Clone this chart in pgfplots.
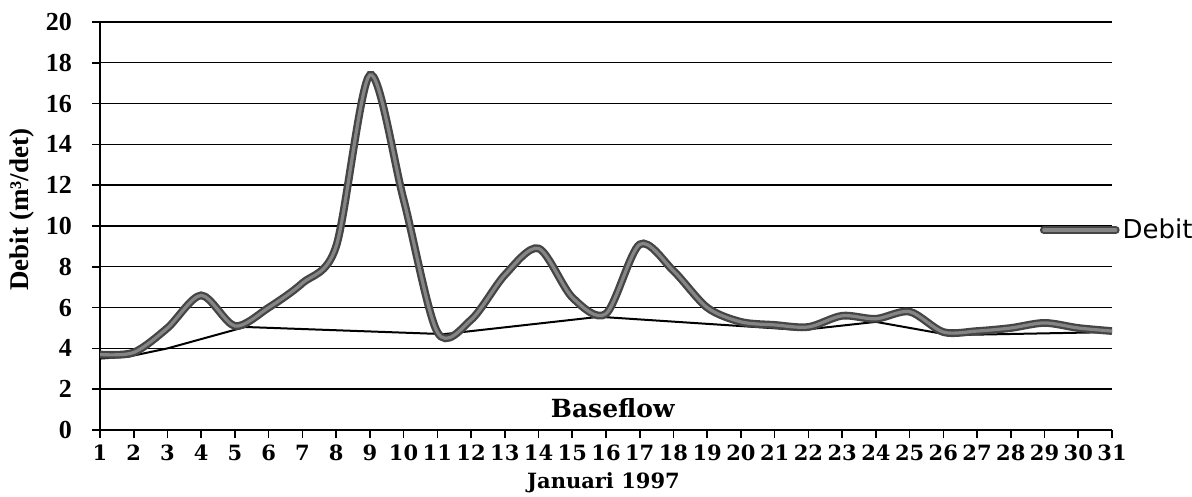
\documentclass[border=0pt]{standalone}
\usepackage{fontspec}
\setmainfont{Liberation Serif}
\newfontfamily\dvserif{DejaVu Serif}
\newfontfamily\dvsans{DejaVu Sans}
\usepackage{pgfplots}
\pgfplotsset{compat=1.18}

\definecolor{debitout}{HTML}{454545}
\definecolor{debitin}{HTML}{858585}

\begin{document}
\begin{tikzpicture}
\useasboundingbox (-50pt,-33.5pt) rectangle (546pt,215pt);
\begin{axis}[
    scale only axis,
    width=506pt, height=204pt,
    xmin=1, xmax=31, ymin=0, ymax=20,
    xtick={1,...,31},
    ytick={0,2,...,20},
    axis x line*=bottom,
    axis y line*=left,
    axis line style={black, line width=0.8pt},
    tick style={black, line width=0.8pt},
    tick align=outside,
    major tick length=4pt,
    ymajorgrids,
    grid style={black, line width=0.7pt},
    /pgf/number format/assume math mode=true,
    xticklabel style={font=\dvserif\bfseries\fontsize{10.5}{12}\selectfont},
    yticklabel style={font=\bfseries\fontsize{13}{15}\selectfont, xshift=-6.5pt},
    xlabel={Januari 1997},
    xlabel style={font=\dvserif\bfseries\fontsize{10.5}{12}\selectfont,
        at={(rel axis cs:0.4975,0)}, anchor=center, yshift=-26.5pt},
    ylabel={Debit (m³/det)},
    ylabel style={font=\bfseries\fontsize{13.5}{16}\selectfont,
        at={(rel axis cs:0,0.54)}, anchor=center, yshift=39pt},
    legend style={draw=none, fill=none, inner sep=0pt,
        at={(axis cs:28.85,9.8)}, anchor=west,
        font=\dvsans\fontsize{13}{15}\selectfont,
        nodes={inner sep=1.5pt}},
    legend image code/.code={
        \draw[#1, line cap=round] (0pt,0pt) -- (36pt,0pt);
    },
]
% baseflow, thin black straight segments
\addplot[black, line width=1pt, forget plot] coordinates {
    (1,3.5) (1.85,3.6) (3,4.0) (5.3,5.05) (11.2,4.7) (15.8,5.55)
    (21.8,4.9) (24,5.3) (26.2,4.65) (31,4.8)
};
% debit, thick grey smoothed line
\addplot[smooth, draw=debitout, line width=3.9pt,
    postaction={draw=debitin, line width=1.6pt}] coordinates {
    (1,3.7) (2,3.8) (3,5.0) (4,6.6) (5,5.1) (6,6.0) (7,7.2) (8,9.0)
    (9,17.4) (10,11.3) (11,4.8) (12,5.4) (13,7.6) (14,8.9) (15,6.5)
    (16,5.7) (17,9.1) (18,7.8) (19,6.0) (20,5.3) (21,5.15) (22,5.05)
    (23,5.6) (24,5.45) (25,5.8) (26,4.8) (27,4.85) (28,5.0) (29,5.25)
    (30,5.0) (31,4.85)
};
\addlegendentry{Debit}
\node[font=\dvserif\bfseries\fontsize{12.5}{14}\selectfont]
    at (axis cs:16.2,1.08) {Baseflow};
\end{axis}
\end{tikzpicture}
\end{document}
